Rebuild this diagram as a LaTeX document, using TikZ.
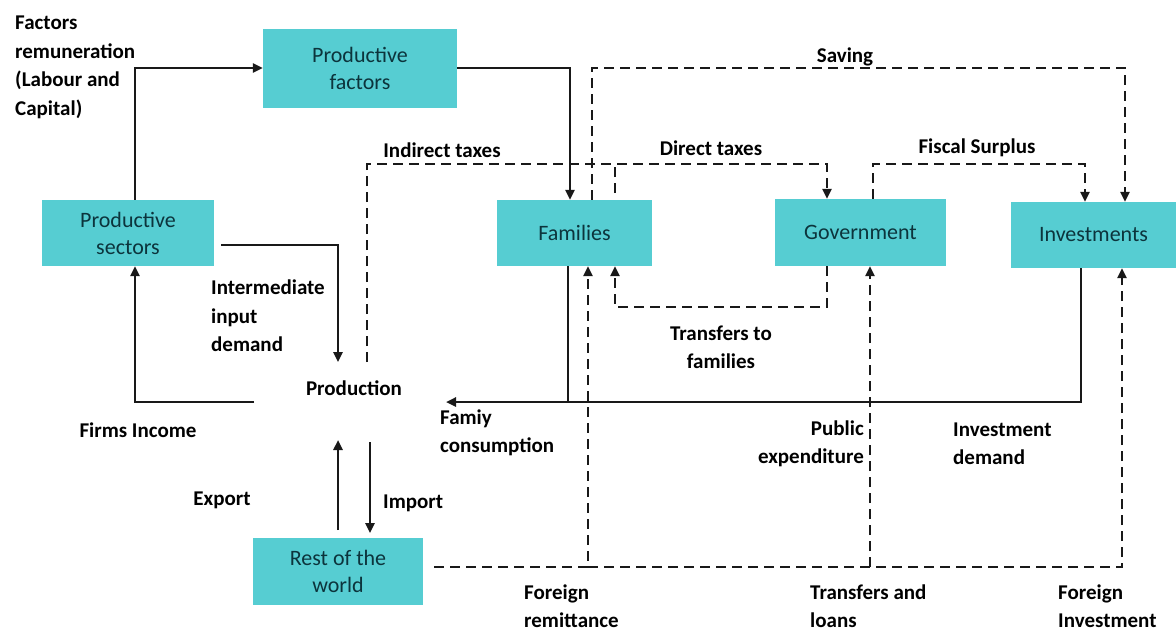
\documentclass[tikz,border=0pt]{standalone}
\usepackage{fontspec}
\setmainfont{Carlito}
\usetikzlibrary{arrows.meta}
\definecolor{boxfill}{RGB}{86,205,210}
\definecolor{boxtext}{RGB}{12,52,60}
\tikzset{
  box/.style={fill=boxfill, draw=none, inner sep=0pt, align=center, text=boxtext,
    font=\fontsize{22}{27}\selectfont},
  lbl/.style={inner sep=0pt, font=\bfseries\fontsize{21}{28.5}\selectfont, text=black},
  sline/.style={line width=2.4pt, draw=black!90},
  dline/.style={line width=2.4pt, draw=black!90, dash pattern=on 10pt off 6pt},
  tip/.style={-{Triangle[length=10pt,width=9pt]}},
}
\begin{document}
\begin{tikzpicture}[x=1pt,y=-1pt]
\useasboundingbox (0,0) rectangle (1176,635);
% boxes
\node[box, minimum width=194pt, minimum height=79pt] (pf) at (360,68) {Productive\\factors};
\node[box, minimum width=172pt, minimum height=66pt] (ps) at (128,233) {Productive\\sectors};
\node[box, minimum width=155pt, minimum height=66pt] (fam) at (574.5,233) {Families};
\node[box, minimum width=171pt, minimum height=67pt] (gov) at (860.5,232.5) {Government};
\node[box, minimum width=165pt, minimum height=66pt] (inv) at (1093.5,235) {Investments};
\node[box, minimum width=170pt, minimum height=67pt] (row) at (338,571.5) {Rest of the\\world};
\node[lbl] (prod) at (354,388) {Production};
% column / row helpers
\coordinate (c135) at (135,0);
\coordinate (c254) at (254,0);
\coordinate (c338) at (338,0);
\coordinate (c367) at (367,0);
\coordinate (c370) at (370,0);
\coordinate (c446) at (446,0);
\coordinate (c568) at (568,0);
\coordinate (c570) at (570,0);
\coordinate (c588) at (588,0);
\coordinate (c592) at (592,0);
\coordinate (c615) at (615,0);
\coordinate (c827) at (827,0);
\coordinate (c870) at (870,0);
\coordinate (c873) at (873,0);
\coordinate (c1081) at (1081,0);
\coordinate (c1085) at (1085,0);
\coordinate (c1122) at (1122,0);
\coordinate (c1125) at (1125,0);
\coordinate (r164) at (0,164);
\coordinate (r193) at (0,193);
\coordinate (r245) at (0,245);
\coordinate (r307) at (0,307);
\coordinate (r362) at (0,362);
\coordinate (r402) at (0,402);
\coordinate (r440) at (0,440);
\coordinate (r442) at (0,442);
\coordinate (r530) at (0,530);
\coordinate (r533) at (0,533);
\coordinate (r567) at (0,567);
% solid connectors
\draw[sline, tip] (c135 |- ps.north) -- (c135 |- pf.west) -- (pf.west);
\draw[sline, tip] (pf.east) -- (c570 |- pf.east) -- (c570 |- fam.north);
\draw[sline, tip] ([xshift=7pt]ps.east |- r245) -- (c338 |- r245) -- (c338 |- r362);
\draw[sline, tip] (c254 |- r402) -- (c135 |- r402) -- (c135 |- ps.south);
\draw[sline] (c568 |- fam.south) -- (c568 |- r402);
\draw[sline, tip] (c1081 |- inv.south) -- (c1081 |- r402) -- (c446 |- r402);
\draw[sline, tip] (c338 |- r530) -- (c338 |- r440);
\draw[sline, tip] (c370 |- r442) -- (c370 |- r533);
% dashed connectors
\draw[dline, tip] (c592 |- fam.north) -- (c592 |- pf.east) -- (c1125 |- pf.east) -- (c1125 |- inv.north);
\draw[dline, tip] (c367 |- r362) -- (c367 |- r164) -- (c827 |- r164) -- (c827 |- gov.north);
\draw[dline] (c615 |- r193) -- (c615 |- r164);
\draw[dline, tip] (c873 |- gov.north) -- (c873 |- r164) -- (c1085 |- r164) -- (c1085 |- inv.north);
\draw[dline, tip] (c827 |- gov.south) -- (c827 |- r307) -- (c615 |- r307) -- (c615 |- fam.south);
\draw[dline, tip] ([xshift=11pt]row.east |- r567) -- (c588 |- r567) -- (c588 |- fam.south);
\draw[dline, tip] (c588 |- r567) -- (c1122 |- r567) -- (c1122 |- inv.south);
\draw[dline, tip] (c870 |- r567) -- (c870 |- gov.south);
% labels
\node[lbl, anchor=west, align=left] (lfr) at (15,67.5) {Factors\\remuneration\\(Labour and\\Capital)};
\node[lbl] (lsav) at (845,57) {Saving};
\node[lbl] (lind) at (442,150) {Indirect taxes};
\node[lbl] (ldir) at (711,148) {Direct taxes};
\node[lbl] (lfis) at (977,148) {Fiscal Surplus};
\node[lbl, anchor=west, align=left] (lint) at (211,316) {Intermediate\\input\\demand};
\node[lbl, align=center] (ltr) at (721,347.5) {Transfers to\\families};
\node[lbl, anchor=west, align=left] (lfc) at (440,433) {Famiy\\consumption};
\node[lbl] (lfi) at (138,430) {Firms Income};
\node[lbl, anchor=east, align=right] (lpe) at (864,444) {Public\\expenditure};
\node[lbl, anchor=west, align=left] (lid) at (953,444) {Investment\\demand};
\node[lbl] (lex) at (222,500) {Export};
\node[lbl, anchor=west] (lim) at (383,503) {Import};
\node[lbl, anchor=west, align=left] (lrem) at (524,606) {Foreign\\remittance};
\node[lbl, anchor=west, align=left] (ltl) at (810,606) {Transfers and\\loans};
\node[lbl, anchor=west, align=left] (lfinv) at (1058,606) {Foreign\\Investment};
\end{tikzpicture}
\end{document}
